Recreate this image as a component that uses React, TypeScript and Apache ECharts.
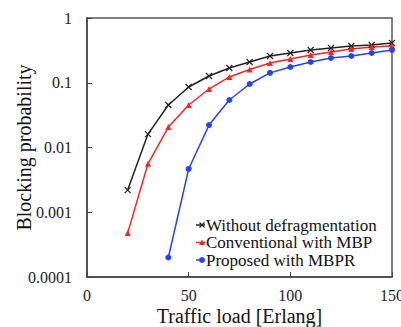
import React, { useEffect, useRef } from "react";
import * as echarts from "echarts";

const loads = [20, 30, 40, 50, 60, 70, 80, 90, 100, 110, 120, 130, 140, 150];
const withoutDefrag = [0.0022, 0.0161, 0.0453, 0.086, 0.127, 0.169, 0.209, 0.259, 0.288, 0.321, 0.344, 0.37, 0.383, 0.411];
const conventionalMBP = [0.00048, 0.0056, 0.0207, 0.0453, 0.08, 0.123, 0.16, 0.202, 0.233, 0.268, 0.299, 0.332, 0.356, 0.37];
const proposedMBPR = [null, null, 0.0002, 0.00466, 0.0222, 0.0542, 0.0957, 0.142, 0.175, 0.209, 0.241, 0.259, 0.288, 0.321];
const xTickValues = [0, 50, 100, 150];
const xTickLabels = ["0", "50", "100", "150"];
const yTickValues = [0.0001, 0.001, 0.01, 0.1, 1];
const yTickLabels = ["0.0001", "0.001", "0.01", "0.1", "1"];
const seriesNames = ["Without defragmentation", "Conventional with MBP", "Proposed with MBPR"];
const seriesColors = ["#222222", "#ff2222", "#2244ff"];

const FONT = "Liberation Serif";

export default function App() {
  const ref = useRef<HTMLDivElement>(null);
  useEffect(() => {
    if (!ref.current) return;
    const chart = echarts.init(ref.current, null, { renderer: "svg" });
    const mk = (vals: (number | null)[]) =>
      loads.map((x, i) => [x, vals[i]]).filter((p) => p[1] != null);
    chart.setOption({
      animation: false,
      backgroundColor: "#ffffff",
      textStyle: { fontFamily: FONT },
      grid: {
        left: 87,
        top: 18,
        right: 9,
        bottom: 50,
        show: true,
        borderColor: "#555",
        borderWidth: 1.5,
        containLabel: false,
        outerBoundsMode: "none",
      },
      xAxis: {
        type: "value",
        min: 0,
        max: 150,
        interval: 50,
        name: "Traffic load [Erlang]",
        nameLocation: "middle",
        nameGap: 29,
        nameTextStyle: { fontFamily: FONT, fontSize: 20, color: "#111" },
        axisLine: { show: true, onZero: false, lineStyle: { color: "#444", width: 1.5 } },
        axisTick: { show: true, inside: true, length: 5, lineStyle: { color: "#444" } },
        axisLabel: { show: false },
        splitLine: { show: false },
      },
      yAxis: {
        type: "log",
        logBase: 10,
        min: 0.0001,
        max: 1,
        name: "Blocking probability",
        nameLocation: "middle",
        nameGap: 53,
        nameTextStyle: { fontFamily: FONT, fontSize: 20, color: "#111" },
        axisLine: { show: true, lineStyle: { color: "#444", width: 1.5 } },
        axisTick: { show: true, inside: true, length: 5, lineStyle: { color: "#444" } },
        axisLabel: { show: false },
        splitLine: { show: false },
        minorTick: { show: false },
      },
      series: [
        {
          name: seriesNames[0],
          type: "line",
          data: mk(withoutDefrag),
          color: seriesColors[0],
          symbol: "path://M-1,-1L1,1M1,-1L-1,1",
          symbolSize: 6,
          lineStyle: { width: 1.5 },
          itemStyle: { color: seriesColors[0], borderColor: seriesColors[0], borderWidth: 1.2 },
        },
        {
          name: seriesNames[1],
          type: "line",
          data: mk(conventionalMBP),
          color: seriesColors[1],
          symbol: "triangle",
          symbolSize: 6,
          lineStyle: { width: 1.5 },
        },
        {
          name: seriesNames[2],
          type: "line",
          data: mk(proposedMBPR),
          color: seriesColors[2],
          symbol: "circle",
          symbolSize: 6,
          lineStyle: { width: 1.5 },
        },
      ],
    });

    const px = (x: number, y: number) => chart.convertToPixel({ gridIndex: 0 }, [x, y]) as number[];
    const graphics: any[] = [];
    yTickValues.forEach((v, i) => {
      const p = px(0, v);
      graphics.push({
        type: "text",
        x: p[0] - 15,
        y: p[1],
        style: {
          text: yTickLabels[i],
          font: `16px '${FONT}'`,
          fill: "#222",
          align: "right",
          verticalAlign: "middle",
        },
      });
    });
    xTickValues.forEach((v, i) => {
      const p = px(v, yTickValues[0]);
      graphics.push({
        type: "text",
        x: p[0],
        y: p[1] + 18,
        style: {
          text: xTickLabels[i],
          font: `16px '${FONT}'`,
          fill: "#222",
          align: "center",
          verticalAlign: "middle",
        },
      });
    });

    // legend (lower right, inside plot)
    const legX = 196;
    const legY0 = 225;
    const legStep = 17.5;
    seriesNames.forEach((name, i) => {
      const cy = legY0 + i * legStep;
      const c = seriesColors[i];
      const children: any[] = [
        { type: "line", shape: { x1: legX, y1: cy, x2: legX + 9, y2: cy }, style: { stroke: c, lineWidth: 1.5 } },
      ];
      const mx = legX + 6;
      if (i === 0) {
        children.push(
          { type: "line", shape: { x1: mx - 2.5, y1: cy - 2.5, x2: mx + 2.5, y2: cy + 2.5 }, style: { stroke: c, lineWidth: 1.2 } },
          { type: "line", shape: { x1: mx - 2.5, y1: cy + 2.5, x2: mx + 2.5, y2: cy - 2.5 }, style: { stroke: c, lineWidth: 1.2 } }
        );
      } else if (i === 1) {
        children.push({
          type: "polygon",
          shape: { points: [[mx, cy - 3], [mx + 3, cy + 2.5], [mx - 3, cy + 2.5]] },
          style: { fill: c },
        });
      } else {
        children.push({ type: "circle", shape: { cx: mx, cy, r: 3 }, style: { fill: c } });
      }
      children.push({
        type: "text",
        x: legX + 10,
        y: cy,
        style: { text: name, font: `17px '${FONT}'`, fill: "#111", align: "left", verticalAlign: "middle" },
      });
      graphics.push({ type: "group", children });
    });

    chart.setOption({ graphic: graphics });
    return () => chart.dispose();
  }, []);
  return (
    <div
      ref={ref}
      style={{ position: "fixed", left: 0, top: 0, width: 401, height: 327, background: "#fff" }}
    />
  );
}
